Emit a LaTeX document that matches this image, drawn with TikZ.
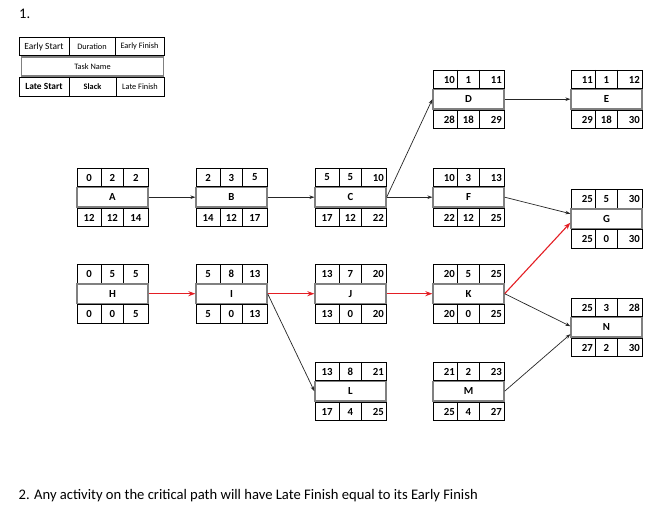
\documentclass[tikz,border=0pt]{standalone}
\usepackage{fontspec}
\setmainfont{Carlito}
\usetikzlibrary{arrows.meta}
\definecolor{crit}{RGB}{228,30,36}
\definecolor{bargray}{RGB}{128,128,128}
\tikzset{
  cellbox/.style={draw=black,line width=0.8pt},
  barbox/.style={draw=bargray,line width=1.3pt,minimum width=71pt,minimum height=19.5pt,inner sep=0pt,font=\fontsize{10.8}{11}\selectfont\bfseries},
  num/.style={inner sep=0pt,font=\fontsize{10.8}{11}\selectfont\bfseries},
  legtxt/.style={inner sep=0pt,font=\fontsize{8.3}{9}\selectfont},
  conn/.style={draw=black!85,line width=0.7pt,-{Stealth[length=5pt,width=3.6pt]}},
  critconn/.style={draw=crit,line width=1.1pt,-{Stealth[length=7pt,width=5pt]}},
  bigtxt/.style={inner sep=0pt,anchor=base west,font=\fontsize{14.6}{16}\selectfont}
}
% cell number: #1 align (c/r), #2 left x, #3 right x, #4 y centre, #5 value, #6 name
\newcommand\cellnum[6]{%
  \if#1r\node[num,anchor=east] (#6) at (#3-2,#4) {#5};%
  \else\node[num] (#6) at ({(#2+#3)/2},#4) {#5};\fi}
\newcommand\task[9]{\def\tN{#1}\def\tX{#2}\def\tY{#3}\def\tL{#4}%
  \def\tES{#5}\def\tD{#6}\def\tEF{#7}\def\tLS{#8}\def\tSL{#9}\taskfinish}
\newcommand\taskfinish[3]{%
  % top row
  \draw[cellbox] (\tX,\tY) rectangle (\tX+71,\tY+18.5);
  \draw[cellbox] (\tX+24,\tY) -- (\tX+24,\tY+18.5);
  \draw[cellbox] (\tX+46.5,\tY) -- (\tX+46.5,\tY+18.5);
  % bottom row
  \draw[cellbox] (\tX,\tY+40) rectangle (\tX+71,\tY+58.5);
  \draw[cellbox] (\tX+24,\tY+40) -- (\tX+24,\tY+58.5);
  \draw[cellbox] (\tX+46.5,\tY+40) -- (\tX+46.5,\tY+58.5);
  % middle bar
  \node[barbox] (\tN) at (\tX+35.5,\tY+29.2) {\tL};
  % numbers
  \cellnum{#2}{\tX}{\tX+24}{\tY+9.5}{\tES}{\tN-es}
  \cellnum{c}{\tX+24}{\tX+46.5}{\tY+9.5}{\tD}{\tN-d}
  \cellnum{#3}{\tX+46.5}{\tX+71}{\tY+9.5}{\tEF}{\tN-ef}
  \cellnum{#2}{\tX}{\tX+24}{\tY+49.5}{\tLS}{\tN-ls}
  \cellnum{c}{\tX+24}{\tX+46.5}{\tY+49.5}{\tSL}{\tN-sl}
  \cellnum{#3}{\tX+46.5}{\tX+71}{\tY+49.5}{#1}{\tN-lf}
}
\begin{document}
\begin{tikzpicture}[x=1pt,y=-1pt]
\useasboundingbox[fill=white] (0,0) rectangle (653,510);

\node[bigtxt] (t1) at (19,19) {1.};
\node[bigtxt] (t2) at (18.5,499) {2. Any activity on the critical path will have Late Finish equal to its Early Finish};

% legend
\draw[cellbox] (19,37) rectangle (164,55.5);
\draw[cellbox] (69,37) -- (69,55.5);
\draw[cellbox] (115,37) -- (115,55.5);
\node[draw=bargray,line width=1.3pt,minimum width=142.5pt,minimum height=19pt,inner sep=0pt,legtxt] (leg-tn) at (92.5,66.5) {Task Name};
\draw[cellbox] (19,77.5) rectangle (164,96);
\draw[cellbox] (69,77.5) -- (69,96);
\draw[cellbox] (116,77.5) -- (116,96);
\node[legtxt,font=\fontsize{9.4}{10}\selectfont] (leg-es) at (44,46.5) {Early Start};
\node[legtxt] (leg-d) at (92,46.5) {Duration};
\node[legtxt] (leg-ef) at (139.5,46.5) {Early Finish};
\node[legtxt,font=\fontsize{9.4}{10}\selectfont\bfseries] (leg-ls) at (44,86.5) {Late Start};
\node[legtxt,font=\fontsize{8.3}{9}\selectfont\bfseries] (leg-sl) at (92.5,86.5) {Slack};
\node[legtxt] (leg-lf) at (140,86.5) {Late Finish};

% tasks
\task{A}{77}{168}{A}{0}{2}{2}{12}{12}{14}{c}{c}
\task{B}{196}{168}{B}{2}{3}{5}{14}{12}{17}{c}{c}
\task{C}{315}{168}{C}{5}{5}{10}{17}{12}{22}{c}{r}
\task{D}{433}{70}{D}{10}{1}{11}{28}{18}{29}{r}{r}
\task{E}{571}{70}{E}{11}{1}{12}{29}{18}{30}{r}{r}
\task{F}{433}{168}{F}{10}{3}{13}{22}{12}{25}{r}{r}
\task{G}{571}{189.5}{G}{25}{5}{30}{25}{0}{30}{r}{r}
\task{H}{77}{264.5}{H}{0}{5}{5}{0}{0}{5}{c}{c}
\task{I}{196}{264.5}{I}{5}{8}{13}{5}{0}{13}{c}{c}
\task{J}{315}{264.5}{J}{13}{7}{20}{13}{0}{20}{c}{r}
\task{K}{433}{264.5}{K}{20}{5}{25}{20}{0}{25}{r}{r}
\task{L}{315}{362}{L}{13}{8}{21}{17}{4}{25}{c}{r}
\task{M}{433}{362}{M}{21}{2}{23}{25}{4}{27}{r}{r}
\task{N}{571}{298}{N}{25}{3}{28}{27}{2}{30}{r}{r}

% connectors
\draw[conn] (A.east) -- (B.west);
\draw[conn] (B.east) -- (C.west);
\draw[conn] (C.east) -- (D.west);
\draw[conn] (C.east) -- (F.west);
\draw[conn] (D.east) -- (E.west);
\draw[conn] (F.east) -- ([yshift=5pt]G.west);
\draw[critconn] (H.east) -- (I.west);
\draw[critconn] (I.east) -- (J.west);
\draw[conn] (I.east) -- (L.west);
\draw[critconn] (J.east) -- (K.west);
\draw[critconn] (K.east) -- ([yshift=-4pt]G.west);
\draw[conn] (K.east) -- ([yshift=1pt]N.west);
\draw[conn] (M.east) -- ([yshift=-7pt]N.west);
\end{tikzpicture}
\end{document}
